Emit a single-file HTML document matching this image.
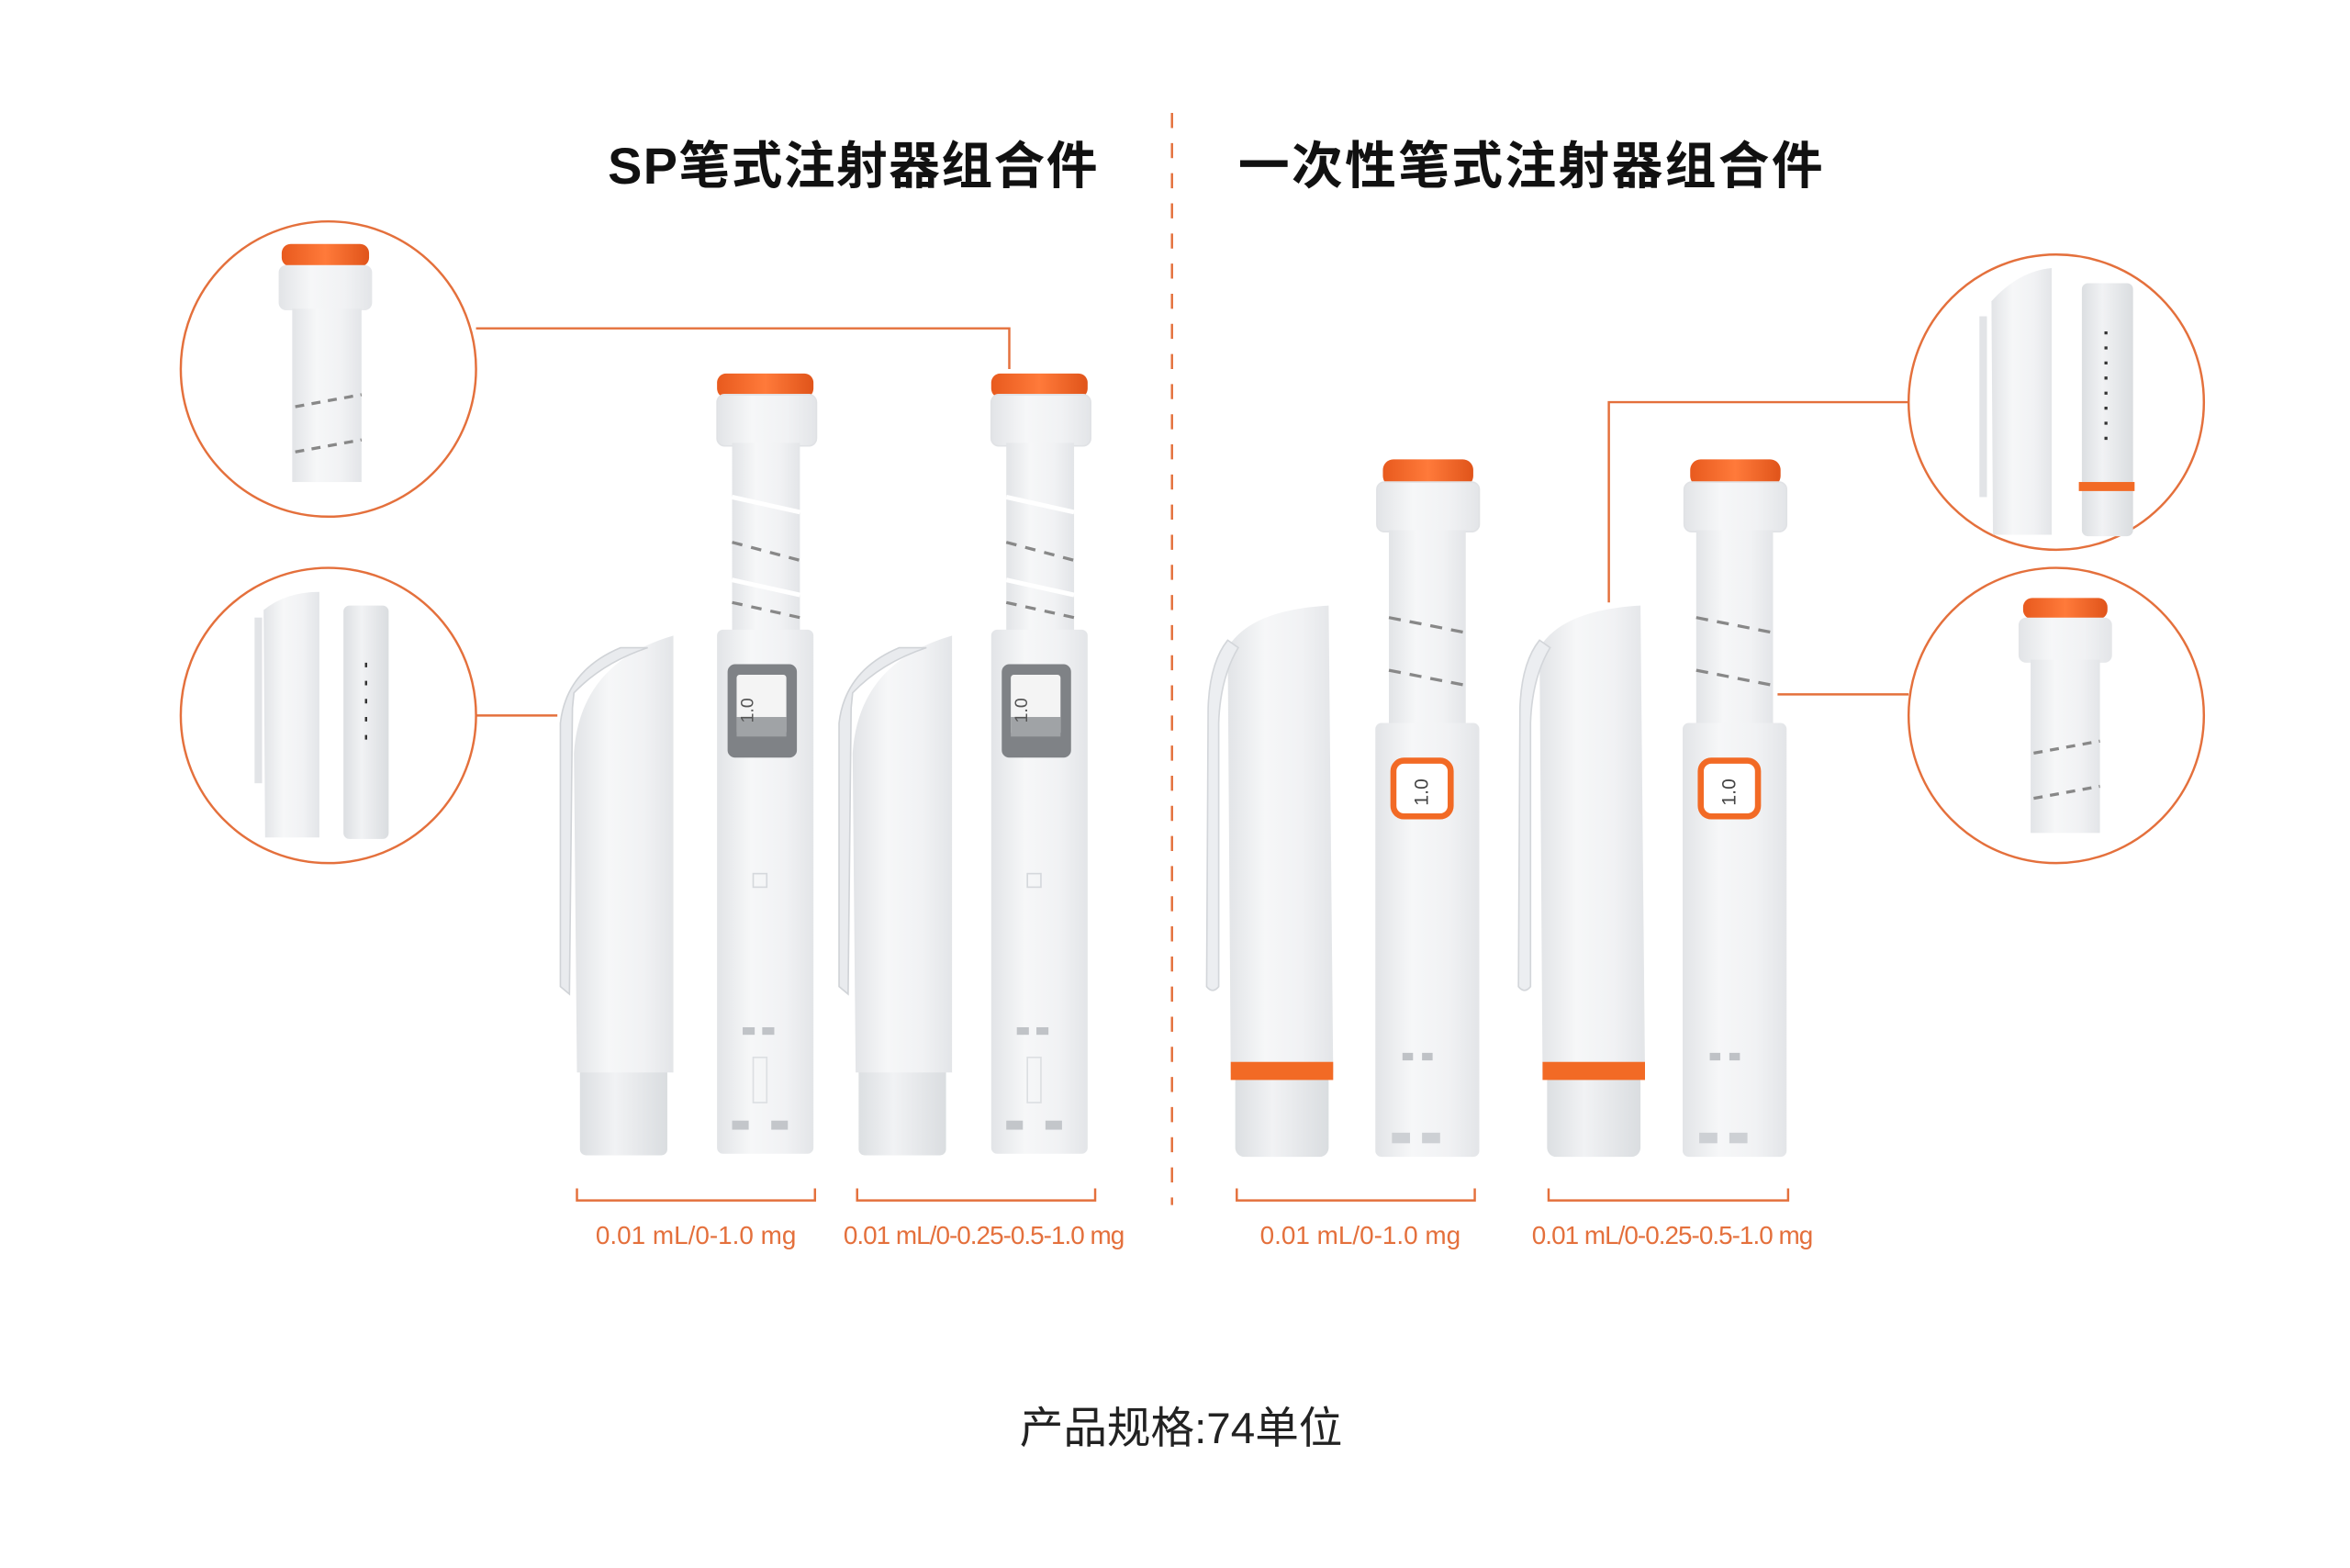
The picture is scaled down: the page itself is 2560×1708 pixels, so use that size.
<!DOCTYPE html>
<html><head><meta charset="utf-8"><style>
html,body{margin:0;padding:0;background:#fff;}
svg{display:block;}
text{font-family:"Liberation Sans","Noto Sans CJK SC",sans-serif;}
</style></head><body>
<svg width="2560" height="1708" viewBox="0 0 1560 1041" preserveAspectRatio="none" xmlns="http://www.w3.org/2000/svg">
<defs>
<linearGradient id="cyl" x1="0" x2="1" y1="0" y2="0">
<stop offset="0" stop-color="#e2e4e7"/><stop offset="0.35" stop-color="#f6f7f8"/><stop offset="0.7" stop-color="#f1f2f4"/><stop offset="1" stop-color="#e3e5e8"/></linearGradient>
<linearGradient id="clr" x1="0" x2="1"><stop offset="0" stop-color="#dcdfe2"/><stop offset="0.4" stop-color="#f1f2f4"/><stop offset="1" stop-color="#dadde0"/></linearGradient>
<linearGradient id="org" x1="0" x2="1"><stop offset="0" stop-color="#e85a1e"/><stop offset="0.5" stop-color="#ff7a3a"/><stop offset="1" stop-color="#e0541a"/></linearGradient>
<g id="sppen">
 <rect x="476" y="248" width="64" height="16" rx="6" fill="url(#org)"/>
 <rect x="476" y="262" width="66" height="34" rx="5" fill="url(#cyl)" stroke="#e0e2e5"/>
 <rect x="486" y="294" width="45" height="128" fill="url(#cyl)"/>
 <path d="M486 360 L531 372 M486 400 L531 410" stroke="#888" stroke-width="2" stroke-dasharray="7 6"/>
 <path d="M486 330 L531 340 M486 385 L531 395" stroke="#fff" stroke-width="3"/>
 <rect x="476" y="418" width="64" height="348" rx="4" fill="url(#cyl)"/>
 <rect x="483" y="441" width="46" height="62" rx="5" fill="#7f8286"/>
 <rect x="489" y="448" width="33" height="40" rx="2" fill="#f4f4f4"/>
 <rect x="489" y="476" width="33" height="13" fill="#a0a3a6"/>
 <text x="0" y="0" font-size="12" fill="#555" transform="translate(500,480) rotate(-90)">1.0</text>
 <rect x="500" y="580" width="9" height="9" fill="none" stroke="#d5d8dc"/>
 <rect x="493" y="682" width="8" height="5" fill="#c0c3c7"/><rect x="506" y="682" width="8" height="5" fill="#c0c3c7"/>
 <rect x="500" y="702" width="9" height="30" fill="none" stroke="#dcdfe2"/>
 <rect x="486" y="744" width="11" height="6" fill="#c3c6ca"/><rect x="512" y="744" width="11" height="6" fill="#c3c6ca"/>
</g>
<g id="spcap">
 <rect x="385" y="705" width="58" height="62" rx="4" fill="url(#clr)"/>
 <path d="M381 500 Q385 440 447 422 L447 712 L383 712 Z" fill="url(#cyl)"/>
 <path d="M381 460 Q400 440 430 430 L412 430 Q376 445 372 480 L372 655 L378 660 L380 470 Z" fill="#e9ebee" stroke="#d0d3d7"/>
</g>
<g id="dpen">
 <rect x="918" y="305" width="60" height="18" rx="7" fill="url(#org)"/>
 <rect x="914" y="320" width="68" height="33" rx="5" fill="url(#cyl)" stroke="#e0e2e5"/>
 <rect x="922" y="352" width="51" height="132" fill="url(#cyl)"/>
 <path d="M922 410 L973 420 M922 445 L973 455" stroke="#888" stroke-width="2" stroke-dasharray="8 6"/>
 <rect x="913" y="480" width="69" height="288" rx="4" fill="url(#cyl)"/>
 <rect x="925" y="505" width="38" height="37" rx="7" fill="#fff" stroke="#f26a25" stroke-width="4"/>
 <text x="0" y="0" font-size="13" fill="#444" transform="translate(948,535) rotate(-90)">1.0</text>
 <rect x="931" y="699" width="7" height="5" fill="#bfc2c6"/><rect x="944" y="699" width="7" height="5" fill="#bfc2c6"/>
 <rect x="924" y="752" width="12" height="7" fill="#cdd0d4"/><rect x="944" y="752" width="12" height="7" fill="#cdd0d4"/>
</g>
<g id="dcap">
 <rect x="820" y="712" width="62" height="56" rx="6" fill="url(#clr)"/>
 <path d="M815 430 Q830 405 882 402 L885 712 L817 712 Z" fill="url(#cyl)"/>
 <rect x="817" y="705" width="68" height="12" fill="#f26a25"/>
 <path d="M815 425 Q803 440 802 470 L801 655 Q805 660 809 655 L809 480 Q810 450 822 430 Z" fill="#eceef1" stroke="#d3d6da"/>
</g>
</defs>

<text x="566" y="122" font-size="34" font-weight="bold" text-anchor="middle" fill="#111" textLength="325">SP笔式注射器组合件</text>
<text x="1016" y="122" font-size="34" font-weight="bold" text-anchor="middle" fill="#111" textLength="388">一次性笔式注射器组合件</text>
<line x1="778" y1="75" x2="778" y2="800" stroke="#e4703c" stroke-width="1.5" stroke-dasharray="10 10"/>

<polyline points="316,218 670,218 670,245" fill="none" stroke="#e4703c" stroke-width="1.5"/>
<line x1="316" y1="475" x2="370" y2="475" stroke="#e4703c" stroke-width="1.5"/>
<polyline points="1267,267 1068,267 1068,400" fill="none" stroke="#e4703c" stroke-width="1.5"/>
<line x1="1267" y1="461" x2="1180" y2="461" stroke="#e4703c" stroke-width="1.5"/>

<use href="#spcap"/><use href="#sppen"/>
<use href="#spcap" transform="translate(185,0)"/><use href="#sppen" transform="translate(182,0)"/>
<use href="#dcap"/><use href="#dpen"/>
<use href="#dcap" transform="translate(207,0)"/><use href="#dpen" transform="translate(204,0)"/>

<g fill="#fff" stroke="#e4703c" stroke-width="1.5">
<circle cx="218" cy="245" r="98"/><circle cx="218" cy="475" r="98"/>
<circle cx="1365" cy="267" r="98"/><circle cx="1365" cy="475" r="98"/>
</g>
<rect x="187" y="162" width="58" height="15" rx="6" fill="url(#org)"/>
<rect x="185" y="176" width="62" height="30" rx="5" fill="url(#cyl)"/>
<rect x="194" y="205" width="46" height="115" fill="url(#cyl)"/>
<path d="M196 270 L240 262 M196 300 L240 292" stroke="#888" stroke-width="2" stroke-dasharray="6 5"/>
<path d="M175 405 Q190 393 212 393 L212 556 L176 556 Z" fill="url(#cyl)"/>
<rect x="169" y="410" width="5" height="110" fill="#e2e4e7"/>
<rect x="228" y="402" width="30" height="155" rx="4" fill="url(#clr)"/>
<path d="M243 440 V500" stroke="#333" stroke-width="1.5" stroke-dasharray="3 9"/>
<path d="M1322 200 Q1340 180 1362 178 L1362 355 L1323 355 Z" fill="url(#cyl)"/>
<rect x="1314" y="210" width="5" height="120" fill="#e2e4e7"/>
<rect x="1382" y="188" width="34" height="168" rx="4" fill="url(#clr)"/>
<rect x="1380" y="320" width="37" height="6" fill="#f26a25"/>
<path d="M1398 220 V300" stroke="#333" stroke-width="2" stroke-dasharray="2 8"/>
<rect x="1343" y="397" width="56" height="14" rx="6" fill="url(#org)"/>
<rect x="1340" y="410" width="62" height="30" rx="5" fill="url(#cyl)"/>
<rect x="1348" y="438" width="46" height="115" fill="url(#cyl)"/>
<path d="M1350 500 L1394 492 M1350 530 L1394 522" stroke="#888" stroke-width="2" stroke-dasharray="6 5"/>

<g fill="none" stroke="#e4703c" stroke-width="1.5">
<polyline points="383,789 383,797 541,797 541,789"/>
<polyline points="569,789 569,797 727,797 727,789"/>
<polyline points="821,789 821,797 979,797 979,789"/>
<polyline points="1028,789 1028,797 1187,797 1187,789"/>
</g>
<g font-size="17" fill="#e4703c" text-anchor="middle">
<text x="462" y="826">0.01 mL/0-1.0 mg</text>
<text x="653" y="826" letter-spacing="-0.6">0.01 mL/0-0.25-0.5-1.0 mg</text>
<text x="903" y="826">0.01 mL/0-1.0 mg</text>
<text x="1110" y="826" letter-spacing="-0.6">0.01 mL/0-0.25-0.5-1.0 mg</text>
</g>
<text x="784" y="958" font-size="29" text-anchor="middle" fill="#222">产品规格:74单位</text>
</svg>
</body></html>
